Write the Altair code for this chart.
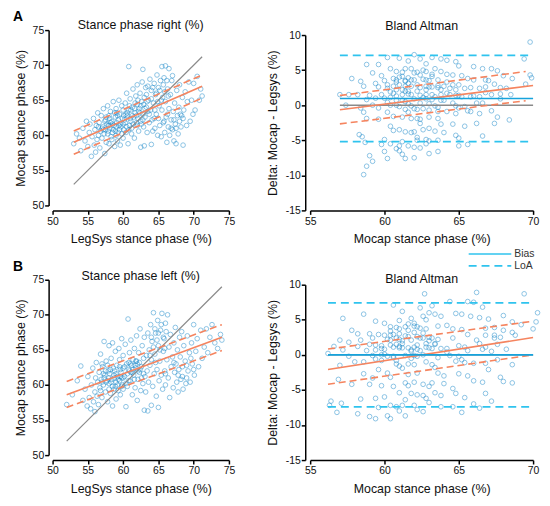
import altair as alt
import pandas as pd

FONT = "Liberation Sans"
PT_COLOR = "#1787c9"
ORANGE = "#f5845f"
LOA_COLOR = "#2fc3ee"
BIAS_COLOR = "#17a3dc"
GRAY = "#8a8a8a"

# ---- Right side: (LegSys, Mocap) stance phase (%) ----
right_points = [
    (53.0,58.8),(53.4,60.2),(53.8,59.6),(54.0,57.8),(54.3,61.0),(54.6,59.2),(54.8,62.0),(55.0,58.4),
    (55.2,60.4),(55.3,61.6),(55.5,57.0),(55.6,59.8),(55.8,62.4),(55.9,58.6),(56.0,60.8),(56.1,57.6),
    (56.2,61.4),(56.3,59.4),(56.4,63.2),(56.5,60.0),
    (56.6,61.8),(56.7,58.2),(56.8,60.6),(56.9,62.8),(57.0,59.6),(57.1,61.2),(57.2,63.8),(57.3,60.2),
    (57.4,57.4),(57.5,62.2),(57.6,59.0),(57.7,61.6),(57.8,64.2),(57.9,60.6),(58.0,62.8),(58.0,58.8),
    (58.1,61.0),(58.2,63.4),(58.3,59.8),(58.4,62.0),(58.5,60.4),(58.6,64.8),(58.7,61.4),(58.8,58.4),
    (58.9,62.6),(59.0,60.0),(59.0,63.8),(59.1,61.8),(59.2,59.2),(59.3,62.2),(59.4,65.0),(59.5,60.8),
    (59.5,63.0),(59.6,58.6),(59.7,61.2),(59.8,64.2),(59.9,62.4),(60.0,59.6),(60.0,61.6),(60.0,63.6),
    (57.2,60.8),(57.6,62.6),(58.2,61.8),(58.6,60.8),(59.2,62.8),(59.6,61.6),(58.8,63.2),(57.9,61.4),
    (58.4,59.4),(59.3,60.4),
    (60.2,62.2),(60.3,64.6),(60.4,60.4),(60.5,66.0),(60.6,62.8),(60.7,58.8),(60.8,69.8),(60.8,63.6),
    (60.9,61.4),(61.0,65.2),(61.1,62.0),(61.2,60.2),(61.3,64.0),(61.4,66.6),(61.5,62.6),(61.6,59.6),
    (61.7,63.2),(61.8,65.6),(61.9,61.8),(62.0,64.4),(62.0,67.2),(62.1,62.4),(62.2,60.6),(62.3,63.8),
    (62.4,66.0),(62.5,58.3),(62.5,62.0),(62.6,64.8),(62.7,67.6),(62.8,69.4),(62.8,63.0),(62.9,61.2),
    (63.0,65.4),(63.0,58.5),(63.1,62.6),(63.2,66.8),(63.3,64.0),(63.4,60.4),(63.5,63.4),(63.5,67.0),
    (60.4,63.0),(60.9,64.2),(61.2,61.0),(61.6,63.8),(62.1,65.0),(62.4,63.2),(62.9,64.4),(63.3,65.8),
    (61.0,62.4),(62.6,61.6),
    (63.6,65.0),(63.7,61.8),(63.8,68.0),(63.9,63.6),(64.0,58.7),(64.0,66.4),(64.1,62.2),(64.2,60.6),
    (64.3,64.6),(64.4,67.4),(64.5,61.0),(64.6,65.8),(64.7,63.0),(64.8,68.6),(64.9,60.0),(65.0,66.8),
    (65.0,62.4),(65.1,64.2),(65.2,61.4),(65.3,67.8),(65.4,59.8),(65.5,69.8),(65.5,63.6),(65.6,65.4),
    (65.7,61.8),(65.8,68.2),(65.9,60.4),(66.0,69.9),(66.0,64.8),(66.1,62.6),(66.2,59.0),(66.3,66.6),
    (66.4,61.2),(66.5,69.5),(66.5,63.8),
    (66.6,60.0),(66.7,65.8),(66.8,62.2),(66.9,67.8),(67.0,68.5),(67.0,60.8),(67.1,63.4),(67.2,59.2),
    (67.3,64.6),(67.4,61.6),(67.5,58.8),(67.6,66.4),(67.7,62.8),(67.8,60.2),(67.9,64.0),(68.0,67.2),
    (68.1,63.0),(68.2,61.2),(68.3,62.8),(68.4,65.4),(68.5,58.6),(68.6,63.6),(68.8,66.2),(69.0,61.4),
    (69.1,64.8),(69.3,67.6),(69.5,62.0),(69.7,65.0),(70.0,67.4),(70.2,63.6),(70.5,68.4),(70.8,65.0),
    (71.0,66.6),(71.2,65.6),(69.9,63.0),
    (57.0,61.0),(57.4,62.0),(57.8,60.2),(58.1,62.4),(58.5,61.6),(58.9,60.6),(59.1,63.2),(59.4,61.4),
    (59.8,60.2),(60.1,62.8),(60.3,61.8),(60.6,63.2),(60.8,60.8),(61.1,63.6),(61.4,61.6),(61.7,64.6),
    (61.9,62.8),(62.2,63.4),(62.5,64.2),(62.8,62.2),(63.1,63.8),(63.4,64.8),(63.7,63.0),(64.0,65.2),
    (64.2,66.8),(64.5,63.6),(64.7,66.0),(64.9,64.8),(65.2,66.4),(65.4,65.0),(65.7,67.2),(65.9,66.2),
    (66.2,67.8),(66.4,65.6),(64.4,62.4),(65.8,62.0),(66.3,63.0),(67.2,62.2),(67.5,61.0),(68.0,62.0),
    (66.8,61.0),(68.5,62.4),(59.0,61.2),(58.0,61.4),(60.5,61.2),(61.3,62.8),(56.5,61.2),(57.5,60.8),
    (60.1,60.8),(62.0,61.4),
]

# ---- Left side: (LegSys, Mocap) stance phase (%) ----
left_points = [
    (52.0,57.2),(52.8,58.6),(53.5,60.6),(54.0,62.7),(54.3,57.8),(54.6,59.4),(54.9,57.0),(55.0,61.2),
    (55.2,58.2),(55.4,56.6),(55.5,60.0),(55.7,62.4),(55.8,57.6),(56.0,56.2),(56.0,59.0),(56.1,61.0),
    (56.2,63.2),(56.3,58.4),(56.4,60.4),(56.5,57.2),
    (56.6,61.8),(56.7,59.6),(56.8,64.4),(56.9,60.8),(57.0,58.2),(57.1,62.6),(57.2,60.0),(57.3,66.2),
    (57.4,61.4),(57.5,59.0),(57.6,63.4),(57.7,60.6),(57.8,57.6),(57.9,62.0),(58.0,65.6),(58.0,60.2),
    (58.1,61.6),(58.2,58.8),(58.3,63.8),(58.4,60.8),(58.5,66.0),(58.6,62.4),(58.7,59.4),(58.8,61.0),
    (58.9,64.8),(59.0,60.4),(59.0,58.0),(59.1,62.8),(59.2,61.2),(59.3,59.2),(59.4,65.2),(59.5,60.6),
    (59.5,63.6),(59.6,58.6),(59.7,61.8),(59.8,66.6),(59.9,60.0),(60.0,62.4),(60.0,64.2),(60.0,59.4),
    (57.3,61.0),(57.8,62.8),(58.3,60.4),(58.7,61.4),(59.2,60.0),(59.6,62.2),(58.0,59.4),(59.8,61.0),
    (57.0,63.0),(58.5,57.0),
    (60.2,61.2),(60.3,65.8),(60.4,56.9),(60.5,63.0),(60.6,59.8),(60.7,69.4),(60.8,62.2),(60.9,64.6),
    (61.0,60.6),(61.1,66.4),(61.2,62.8),(61.3,58.6),(61.4,63.6),(61.5,61.4),(61.6,65.2),(61.7,59.6),
    (61.8,62.4),(61.9,67.0),(62.0,57.8),(62.0,63.0),(62.1,60.8),(62.2,64.6),(62.3,61.8),(62.4,68.0),
    (62.5,59.2),(62.6,62.6),(62.7,65.6),(62.8,60.2),(62.9,63.8),(63.0,56.4),(63.0,66.8),(63.1,61.2),
    (63.2,59.0),(63.3,64.2),(63.4,62.0),(63.5,56.3),(63.5,67.4),
    (60.8,63.2),(61.3,61.8),(61.8,63.4),(62.4,62.2),(62.9,61.6),
    (63.6,60.4),(63.7,65.0),(63.8,62.8),(63.9,68.6),(64.0,57.1),(64.0,63.6),(64.1,66.2),(64.2,59.8),
    (64.3,70.3),(64.4,61.6),(64.5,64.4),(64.6,67.4),(64.7,58.4),(64.8,62.2),(64.9,69.2),(65.0,56.8),
    (65.0,65.6),(65.1,60.6),(65.2,63.4),(65.3,67.8),(65.4,61.4),(65.5,70.2),(65.6,59.4),(65.7,64.8),
    (65.8,66.6),(65.9,62.0),(66.0,68.8),(66.0,60.0),(66.2,63.6),(66.3,70.0),(66.4,61.0),(66.5,65.4),
    (66.6,58.2),(66.7,67.2),(66.8,62.6),(67.0,64.0),
    (67.1,59.6),(67.2,66.0),(67.3,61.8),(67.4,68.2),(67.5,63.0),(67.6,60.4),(67.7,65.0),(67.8,59.0),
    (67.9,62.2),(68.0,66.8),(68.1,64.0),(68.2,60.8),(68.3,67.6),(68.4,62.6),(68.5,59.4),(68.6,65.6),
    (68.8,63.4),(69.0,61.0),(69.1,67.0),(69.2,62.0),(69.4,64.6),(69.5,60.4),(69.7,66.0),(69.8,63.0),
    (70.0,68.6),(70.1,61.4),(70.3,64.8),(70.5,66.6),(70.7,62.6),(71.0,67.8),(71.2,63.8),(71.5,65.4),
    (71.8,68.0),(72.0,64.6),(72.3,66.8),(72.6,68.6),(73.0,66.0),(73.4,65.2),(73.8,67.2),(74.0,66.4),
    (57.2,61.6),(57.6,60.4),(58.0,61.0),(58.2,62.2),(58.5,59.8),(58.8,62.0),(59.0,61.6),(59.3,60.8),
    (59.5,62.6),(59.8,59.8),(60.0,61.0),(60.2,62.6),(60.4,60.2),(60.6,61.6),(60.8,60.6),(61.0,63.0),
    (61.1,61.8),(61.4,62.2),(61.6,60.8),(61.9,63.4),(62.1,62.0),(62.3,63.2),(62.6,61.0),(57.0,60.4),
    (56.8,59.2),(57.5,62.0),(58.9,59.8),(59.6,61.2),(60.9,62.0),(61.7,62.8),
    (64.0,66.8),(64.3,65.4),(64.5,68.0),(64.8,66.4),(65.0,67.4),(65.2,65.0),(65.4,68.6),(65.7,66.8),
    (65.9,65.2),(66.1,67.6),(64.6,63.2),(63.8,64.2),
    (68.4,61.2),(69.0,62.8),(67.8,61.4),(68.9,60.2),(70.0,62.2),(69.6,63.8),(67.2,63.2),(66.0,61.6),
]

# ---- fitted lines ----
right_ident = [53.0, 71.2]
right_fit_x = [53.0, 71.2]
right_fit = [59.0, 67.0]
right_upper = [60.6, 68.6]
right_lower = [57.3, 65.3]

left_ident = [52.0, 74.0]
left_fit_x = [52.0, 74.0]
left_fit = [58.6, 66.8]
left_upper = [60.5, 68.6]
left_lower = [56.8, 64.9]

ba_right_x = [57.0, 70.0]
ba_right_bias = 0.95
ba_right_loa = [7.1, -5.2]
ba_right_fit = [-0.64, 2.8]
ba_right_band_x = [57.0, 69.5]
ba_right_upper = [1.38, 4.8]
ba_right_lower = [-2.67, 0.64]

ba_left_x = [56.2, 70.0]
ba_left_bias = 0.0
ba_left_loa = [7.41, -7.42]
ba_left_fit = [-2.1, 2.47]
ba_left_band_x = [56.2, 70.0]
ba_left_upper = [0.82, 4.8]
ba_left_lower = [-4.2, 0.0]

sc_ticks = [50, 55, 60, 65, 70, 75]
ba_x_ticks = [55, 60, 65, 70]
ba_y_ticks = [-15, -10, -5, 0, 5, 10]

PT = dict(shape="circle", filled=False, size=22, strokeWidth=0.9, color=PT_COLOR, opacity=0.55)
AX = dict(labelOverlap=False, labelSeparation=0, labelFlush=False, tickCount=6)


def scatter_panel(points, ident, fx, fit, up, lo, title, tdy, letter):
    df = pd.DataFrame(points, columns=["legsys", "mocap"])
    X = alt.X("legsys:Q", scale=alt.Scale(domain=[50, 75], nice=False),
              axis=alt.Axis(title="LegSys stance phase (%)", values=sc_ticks, offset=5,
                            labelPadding=2, titlePadding=6, **AX))
    Y = alt.Y("mocap:Q", scale=alt.Scale(domain=[50, 75], nice=False),
              axis=alt.Axis(title="Mocap stance phase (%)", values=sc_ticks, offset=4,
                            labelPadding=1, titlePadding=5, **AX))
    pts = alt.Chart(df).mark_point(**PT).encode(x=X, y=Y)
    idl = alt.Chart(pd.DataFrame({"legsys": ident, "mocap": ident})).mark_line(
        color=GRAY, strokeWidth=1.2).encode(x=X, y=Y)
    fitl = alt.Chart(pd.DataFrame({"legsys": fx, "mocap": fit})).mark_line(
        color=ORANGE, strokeWidth=1.6).encode(x=X, y=Y)
    band = pd.DataFrame({"legsys": fx + fx, "mocap": up + lo, "band": ["upper"] * 2 + ["lower"] * 2})
    bandl = alt.Chart(band).mark_line(color=ORANGE, strokeWidth=1.6, strokeDash=[7, 4]).encode(
        x=X, y=Y, detail="band:N")
    lab = alt.Chart(pd.DataFrame({"t": [letter]})).mark_text(
        font=FONT, fontSize=14, fontWeight="bold", align="left", baseline="top", color="black"
    ).encode(text="t:N", x=alt.value(-40), y=alt.value(-20))
    return alt.layer(pts, idl, bandl, fitl, lab).properties(
        width=178, height=177,
        title=alt.TitleParams(title, frame="group", offset=0, dy=tdy))


def ba_panel(points, bx, bias, loa, fit, bandx, up, lo, tdy, legend=False):
    df = pd.DataFrame(points, columns=["legsys", "mocap"])
    df["delta"] = df["mocap"] - df["legsys"]
    X = alt.X("mocap:Q", scale=alt.Scale(domain=[55, 70], nice=False),
              axis=alt.Axis(title="Mocap stance phase (%)", values=ba_x_ticks, offset=0,
                            labelPadding=2, titlePadding=6, **AX))
    Y = alt.Y("delta:Q", scale=alt.Scale(domain=[-15, 10], nice=False, range=[182, 5]),
              axis=alt.Axis(title="Delta: Mocap - Legsys (%)", values=ba_y_ticks, offset=5,
                            labelPadding=1, titlePadding=6, **AX,
                            labelExpr="datum.value < 0 ? '-' + abs(datum.value) : '' + datum.value"))
    pts = alt.Chart(df).mark_point(**PT).encode(x=X, y=Y)
    zero = alt.Chart(pd.DataFrame({"mocap": bx, "delta": [0.0, 0.0]})).mark_line(
        color=GRAY, strokeWidth=1.5).encode(x=X, y=Y)
    biasl = alt.Chart(pd.DataFrame({"mocap": bx, "delta": [bias, bias]})).mark_line(
        color=BIAS_COLOR, strokeWidth=1.6).encode(x=X, y=Y)
    loa_df = pd.DataFrame({"mocap": bx + bx, "delta": [loa[0]] * 2 + [loa[1]] * 2,
                           "lim": ["upper"] * 2 + ["lower"] * 2})
    loal = alt.Chart(loa_df).mark_line(color=LOA_COLOR, strokeWidth=1.6, strokeDash=[8, 5]).encode(
        x=X, y=Y, detail="lim:N")
    fitl = alt.Chart(pd.DataFrame({"mocap": bx, "delta": fit})).mark_line(
        color=ORANGE, strokeWidth=1.6).encode(x=X, y=Y)
    band = pd.DataFrame({"mocap": bandx + bandx, "delta": up + lo, "band": ["upper"] * 2 + ["lower"] * 2})
    bandl = alt.Chart(band).mark_line(color=ORANGE, strokeWidth=1.6, strokeDash=[7, 4]).encode(
        x=X, y=Y, detail="band:N")
    layers = [pts, zero, bandl, fitl, loal, biasl]
    if legend:
        one = pd.DataFrame({"t": ["Bias"]})
        two = pd.DataFrame({"t": ["LoA"]})
        layers += [
            alt.Chart(one).mark_rule(color=LOA_COLOR, strokeWidth=1.6).encode(
                x=alt.value(160), x2=alt.value(203), y=alt.value(-26)),
            alt.Chart(two).mark_rule(color=LOA_COLOR, strokeWidth=1.6, strokeDash=[8, 5]).encode(
                x=alt.value(160), x2=alt.value(203), y=alt.value(-14)),
            alt.Chart(one).mark_text(font=FONT, fontSize=10.5, align="left", baseline="middle",
                                     color="#333").encode(text="t:N", x=alt.value(206), y=alt.value(-26)),
            alt.Chart(two).mark_text(font=FONT, fontSize=10.5, align="left", baseline="middle",
                                     color="#333").encode(text="t:N", x=alt.value(206), y=alt.value(-14)),
        ]
    return alt.layer(*layers).properties(
        width=225, height=182,
        title=alt.TitleParams("Bland Altman", frame="group", offset=0, dy=tdy))


a1 = scatter_panel(right_points, right_ident, right_fit_x, right_fit, right_upper, right_lower,
                   "Stance phase right (%)", 21, "A")
a2 = ba_panel(right_points, ba_right_x, ba_right_bias, ba_right_loa, ba_right_fit,
              ba_right_band_x, ba_right_upper, ba_right_lower, 2)
b1 = scatter_panel(left_points, left_ident, left_fit_x, left_fit, left_upper, left_lower,
                   "Stance phase left (%)", 23, "B")
b2 = ba_panel(left_points, ba_left_x, ba_left_bias, ba_left_loa, ba_left_fit,
              ba_left_band_x, ba_left_upper, ba_left_lower, 37, legend=True)

chart = alt.concat(a1, a2, b1, b2, columns=2, bounds="flush",
                   spacing={"row": 70, "column": 82}).properties(
    padding={"left": 5, "top": 0, "right": 0, "bottom": 0}
).configure_axis(
    grid=False, domainColor="black", domainWidth=1.5, tickColor="black", tickWidth=1.5, tickSize=4,
    labelFont=FONT, labelFontSize=10.5, labelColor="#111", titleFont=FONT, titleFontSize=12.5,
    titleFontWeight="normal", titleColor="#111", labelOverlap=False, labelSeparation=0
).configure_title(
    font=FONT, fontSize=12.5, fontWeight="normal", color="#111", anchor="middle"
).configure_view(strokeWidth=0)

chart.save("out.html", embed_options={"renderer": "svg", "actions": False})
